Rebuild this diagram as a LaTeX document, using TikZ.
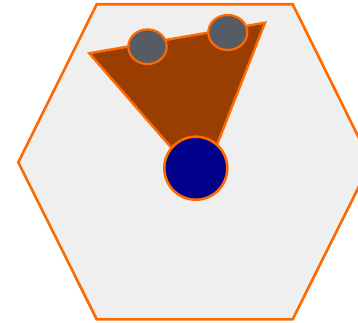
\documentclass[tikz,border=0pt]{standalone}
\usetikzlibrary{shapes.geometric}
\definecolor{hexfill}{HTML}{EFEFEF}
\definecolor{edge}{HTML}{FF6A00}
\definecolor{brown}{HTML}{993D00}
\definecolor{greyb}{HTML}{575B63}
\definecolor{navy}{HTML}{00008B}
\begin{document}
\begin{tikzpicture}[x=1pt,y=-1pt,
  outline/.style={draw=edge,line width=2.6pt,line join=miter}]
\useasboundingbox (0,0) rectangle (358,323);
\draw[outline,fill=hexfill] (96.7,4.3) coordinate (h1) -- (292.7,4.3) coordinate (h2) -- (371,162.3) coordinate (h3)
  -- (292.7,319.3) coordinate (h4) -- (96.7,319.3) coordinate (h5) -- (18.3,162.3) coordinate (h6) -- cycle;
\draw[outline,fill=brown,line width=2.4pt] (89.3,53.3) coordinate (t1) -- (265,22.7) coordinate (t2) -- (202,183) coordinate (t3) -- cycle;
\node[outline,fill=greyb,ellipse,inner sep=0pt,minimum width=38.4pt,minimum height=34.6pt,line width=2.2pt] (e1) at (147.5,46.7) {};
\node[outline,fill=greyb,ellipse,inner sep=0pt,minimum width=39pt,minimum height=35pt,line width=2.2pt] (e2) at (227.8,32.5) {};
\node[outline,fill=navy,circle,inner sep=0pt,minimum size=63pt] (c) at (195.8,168.2) {};
\end{tikzpicture}
\end{document}
